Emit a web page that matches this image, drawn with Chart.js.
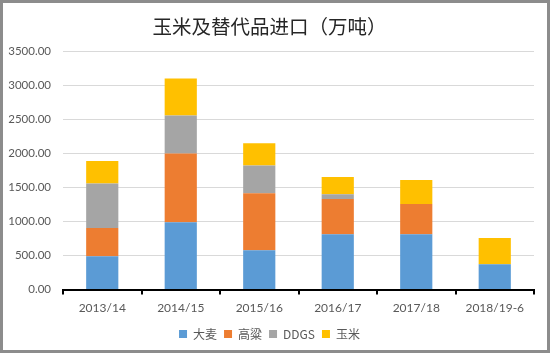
<!DOCTYPE html>
<html>
<head>
<meta charset="utf-8">
<script src="https://cdn.jsdelivr.net/npm/chart.js@4"></script>
<style>
  html, body { margin: 0; padding: 0; background: #fff; }
  #wrap { width: 550px; height: 353px; box-sizing: border-box; border: 3px solid #8c8c8c; position: relative; }
  #myChart { display: block; }
</style>
</head>
<body>
<div id="wrap"><canvas id="myChart" width="544" height="347"></canvas></div>
<script>
// данные
var Seasons = ["2013/14", "2014/15", "2015/16", "2016/17", "2017/18", "2018/19-6"];
var Barley = [490, 990, 580, 815, 815, 373];   // 大麦
var Sorghum = [415, 1010, 836, 517, 443, 0];   // 高粱
var Ddgs = [655, 557, 408, 70, 0, 0];          // DDGS
var Corn = [330, 545, 325, 251, 354, 384];     // 玉米
var SeriesNames = ["大麦", "高粱", "DDGS", "玉米"];

var ctx = document.getElementById("myChart").getContext('2d');
var myChart = new Chart(ctx, {
    type: 'bar',
    data: {
        labels: Seasons,
        datasets: [
            { label: SeriesNames[0], data: Barley, backgroundColor: '#5b9bd5' },
            { label: SeriesNames[1], data: Sorghum, backgroundColor: '#ed7d31' },
            { label: SeriesNames[2], data: Ddgs, backgroundColor: '#a5a5a5' },
            { label: SeriesNames[3], data: Corn, backgroundColor: '#ffc000' }
        ]
    },
    options: {
        responsive: false,
        animation: false,
        datasets: { bar: { categoryPercentage: 0.82, barPercentage: 0.5 } },
        layout: { padding: { left: 2, right: 13, top: 10, bottom: 0 } },
        plugins: {
            title: {
                display: true,
                text: '玉米及替代品进口（万吨）',
                color: '#262626',
                font: { family: '"Noto Sans CJK SC"', size: 19.5, weight: 'normal' },
                padding: { top: 2, bottom: 13 }
            },
            legend: {
                position: 'bottom',
                labels: {
                    boxWidth: 8, boxHeight: 8, padding: 7,
                    color: '#595959',
                    font: { family: '"Noto Sans CJK SC"', size: 12 }
                }
            },
            tooltip: { enabled: false }
        },
        scales: {
            x: {
                stacked: true,
                border: { display: true, color: '#000', width: 2 },
                grid: { drawOnChartArea: false, drawTicks: true, tickLength: 5, color: '#000', lineWidth: 2 },
                ticks: { color: '#595959', font: { family: 'Lato', size: 12 }, padding: 6 }
            },
            y: {
                stacked: true,
                min: 0, max: 3500,
                border: { display: false },
                grid: { color: '#d9d9d9', drawTicks: false },
                afterFit: function (s) { s.width = 58; },
                ticks: {
                    stepSize: 500, padding: 12,
                    color: '#595959', font: { family: 'Lato', size: 11.5 },
                    callback: function (v) { return v.toFixed(2); }
                }
            }
        }
    }
});
</script>
</body>
</html>
